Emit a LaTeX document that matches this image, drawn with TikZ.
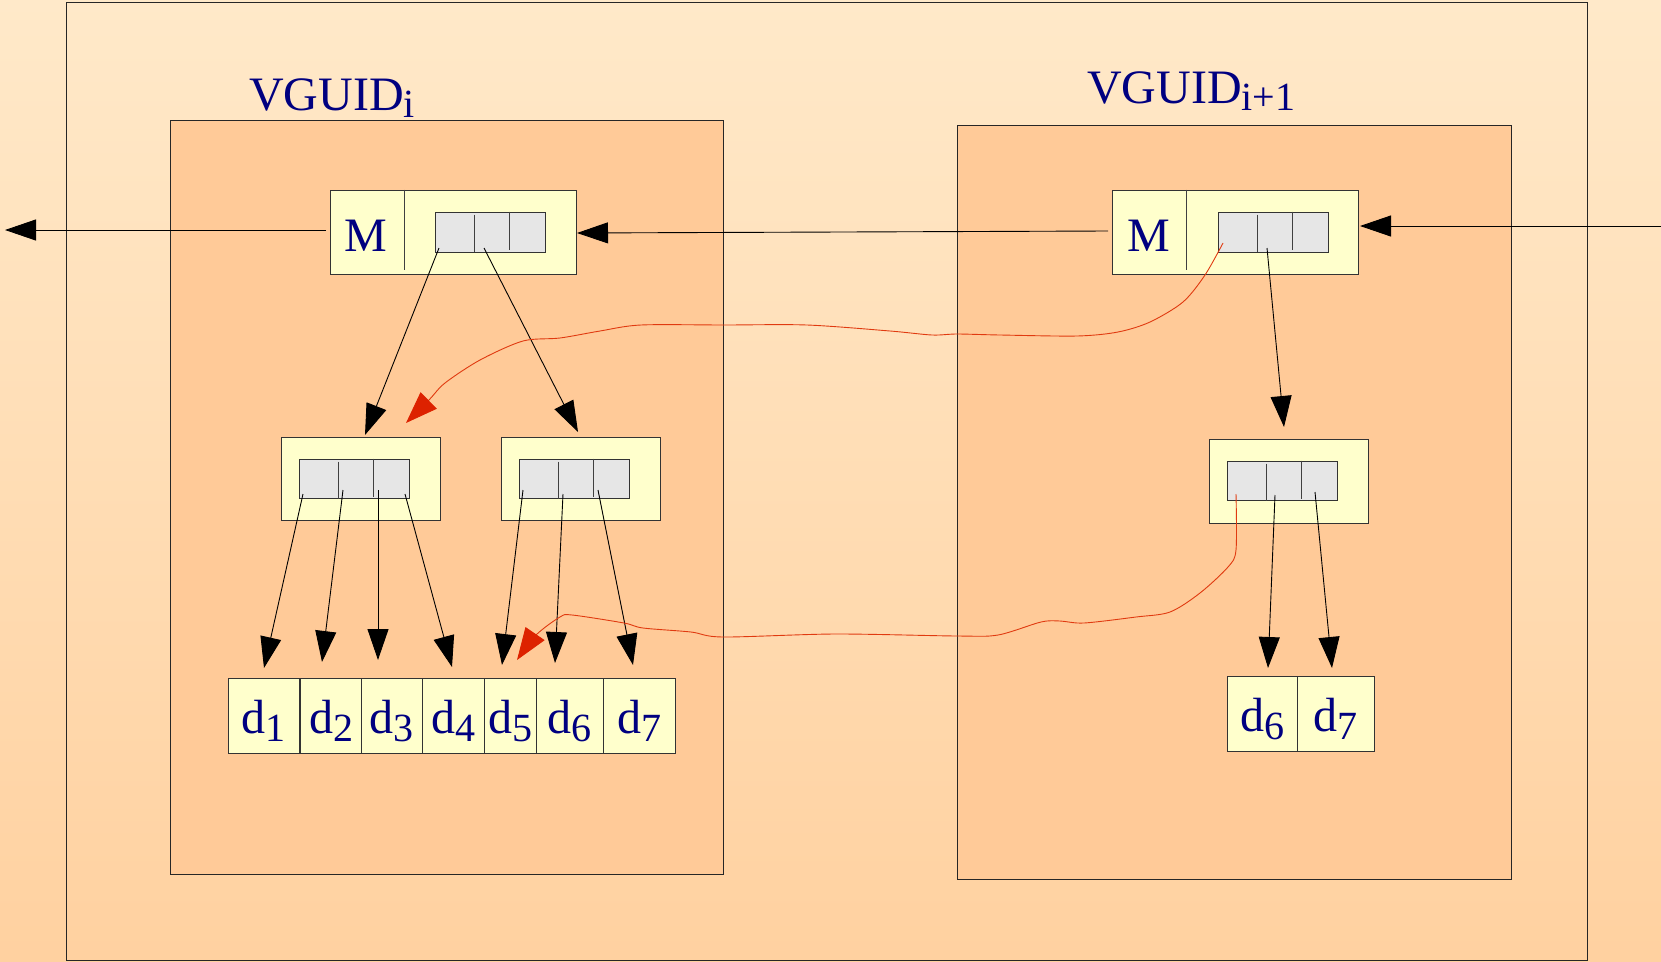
\documentclass[tikz,border=0pt]{standalone}
\usepackage{fontspec}
\setmainfont{Liberation Serif}
\usetikzlibrary{arrows.meta}
\definecolor{bgtop}{HTML}{FFE9C9}
\definecolor{bgbot}{HTML}{FFD1A0}
\definecolor{vbox}{HTML}{FFCA98}
\definecolor{ybox}{HTML}{FFFFCC}
\definecolor{gbox}{HTML}{E6E6E6}
\definecolor{navy}{HTML}{000080}
\definecolor{redl}{HTML}{E03A10}
\definecolor{redh}{HTML}{DD2200}
\newcommand{\dfont}{\fontsize{48}{52}\selectfont}
\newcommand{\mysub}[1]{\raisebox{-0.16em}{\fontsize{40}{40}\selectfont #1}}
\begin{document}
\begin{tikzpicture}[x=1pt,y=-1pt,
  vgbox/.style={draw=black!85, fill=vbox, line width=1pt, inner sep=0pt},
  ybx/.style={draw=black!80, fill=ybox, line width=1pt, inner sep=0pt},
  gbx/.style={draw=black!80, fill=gbox, line width=1pt, inner sep=0pt, minimum width=110pt, minimum height=40pt},
  dcell/.style={ybx, minimum height=75pt, text height=41pt, text depth=5pt, font=\dfont, text=navy},
  lbl/.style={text=navy, font=\dfont, inner sep=0pt},
  divline/.style={draw=black!75, line width=1pt},
  ptr/.style={draw=black, line width=0.9pt, -{Triangle[length=31pt,width=21pt]}},
  rptr/.style={draw=redl, line width=0.9pt, -{Triangle[length=32pt,width=23pt,color=redh]}}
]
\useasboundingbox (0,0) rectangle (1661,961);
\shade[top color=bgtop, bottom color=bgbot] (0,0) rectangle (1661,961);
% outer frame
\node[draw=black!85, line width=1pt, inner sep=0pt, minimum width=1521pt, minimum height=958pt] (outer) at (826.5,481) {};
% big boxes
\node[vgbox, minimum width=553pt, minimum height=754pt] (bigL) at (446.5,497) {};
\node[vgbox, minimum width=554pt, minimum height=754pt] (bigR) at (1234,502) {};
% titles
\node[lbl, anchor=base west] (tL) at (249,110) {VGUID\mysub{i}};
\node[lbl, anchor=base west] (tR) at (1087,103) {VGUID\mysub{i+1}};
% M boxes
\node[ybx, minimum width=246pt, minimum height=84pt] (mL) at (453,232) {};
\node[ybx, minimum width=246pt, minimum height=84pt] (mR) at (1235,232) {};
\draw[divline] (mL.north west) ++(75,0) -- ++(0,80);
\draw[divline] (mR.north west) ++(75,0) -- ++(0,80);
\node[lbl] (mLt) at (366,236) {M};
\node[lbl] (mRt) at (1148.5,236) {M};
\node[gbx] (gML) at (490,232) {};
\node[gbx] (gMR) at (1273,232) {};
% middle boxes
\node[ybx, minimum width=159pt, minimum height=83pt] (n1) at (360.5,478.5) {};
\node[ybx, minimum width=159pt, minimum height=83pt] (n2) at (580.5,478.5) {};
\node[ybx, minimum width=159pt, minimum height=84pt] (n3) at (1288.5,481) {};
\node[gbx, minimum height=39pt] (g1) at (354,478.5) {};
\node[gbx, minimum height=39pt] (g2) at (574,478.5) {};
\node[gbx, minimum height=39pt] (g3) at (1282,480.5) {};
\foreach \g in {gML,gMR,g1,g2,g3}{
  \draw[divline] (\g.north west) ++(40,3) -- ++(0,37);
  \draw[divline] (\g.north west) ++(75,0) -- ++(0,38);
}
% data cells
\node[dcell, minimum width=71pt] (d1) at (263.5,715.5) {d\mysub{1}};
\node[dcell, minimum width=62pt] (d2) at (331,715.5) {d\mysub{2}};
\node[dcell, minimum width=61pt] (d3) at (391.5,715.5) {d\mysub{3}};
\node[dcell, minimum width=62pt] (d4) at (453,715.5) {d\mysub{4}};
\node[dcell, minimum width=52pt] (d5) at (510,715.5) {d\mysub{5}};
\node[dcell, minimum width=67pt] (d6) at (569.5,715.5) {d\mysub{6}};
\node[dcell, minimum width=72pt] (d7) at (639,715.5) {d\mysub{7}};
\node[dcell, minimum width=70pt] (e6) at (1262,713.5) {d\mysub{6}};
\node[dcell, minimum width=77pt] (e7) at (1335.5,713.5) {d\mysub{7}};
% connector end points
\coordinate (sA) at (439,248); \coordinate (tA) at (365,435);
\coordinate (sB) at (484,248); \coordinate (tB) at (578,432);
\coordinate (sC) at (1267,248); \coordinate (tC) at (1284,427);
\coordinate (s1) at (303,494); \coordinate (t1) at (264,668);
\coordinate (s2) at (343,490); \coordinate (t2) at (322,662);
\coordinate (s3) at (378,490); \coordinate (t3) at (378,660);
\coordinate (s4) at (405,494); \coordinate (t4) at (452,667);
\coordinate (s5) at (523,490); \coordinate (t5) at (502,665);
\coordinate (s6) at (563,494); \coordinate (t6) at (555,663);
\coordinate (s7) at (598,490); \coordinate (t7) at (633,665);
\coordinate (s8) at (1275,495); \coordinate (t8) at (1268,668);
\coordinate (s9) at (1315,492); \coordinate (t9) at (1332,668);
\coordinate (hL1) at (326,230); \coordinate (hL2) at (5,230);
\coordinate (hM1) at (1108,231); \coordinate (hM2) at (577,233);
\coordinate (hR1) at (1661,226); \coordinate (hR2) at (1360,226);
% black pointers
\draw[ptr] (sA) -- (tA);
\draw[ptr] (sB) -- (tB);
\draw[ptr] (sC) -- (tC);
\draw[ptr] (s1) -- (t1);
\draw[ptr] (s2) -- (t2);
\draw[ptr] (s3) -- (t3);
\draw[ptr] (s4) -- (t4);
\draw[ptr] (s5) -- (t5);
\draw[ptr] (s6) -- (t6);
\draw[ptr] (s7) -- (t7);
\draw[ptr] (s8) -- (t8);
\draw[ptr] (s9) -- (t9);
\draw[ptr] (hL1) -- (hL2);
\draw[ptr] (hM1) -- (hM2);
\draw[ptr] (hR1) -- (hR2);
% red pointers
\coordinate (rA) at (1223,243); \coordinate (rAt) at (406,423);
\coordinate (rB) at (1236,494); \coordinate (rBt) at (517,660);
\draw[rptr] plot[smooth, tension=0.5] coordinates {(rA) (1205,275) (1183,302) (1150,322) (1118,332) (1077,336) (1000,335) (957,334) (932,335) (890,331) (807,325) (724,325) (641,325) (600,331) (560,338) (523,341) (480,360) (445,383) (429,400) (rAt)};
\draw[rptr] plot[smooth, tension=0.5] coordinates {(rB) (1236,550) (1228,567) (1200,593) (1170,612) (1136,617) (1084,623) (1060,621) (1041,622) (998,635) (957,636) (835,634) (723,637) (691,632) (643,628) (624,623) (572,615) (560,617) (536,635) (rBt)};
\end{tikzpicture}
\end{document}
